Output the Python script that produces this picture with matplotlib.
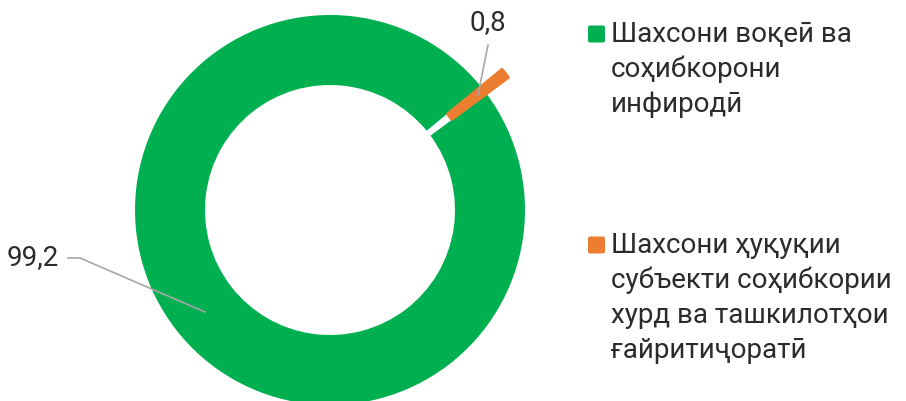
import matplotlib.pyplot as plt
from matplotlib.patches import FancyBboxPatch

plt.rcParams['font.family'] = ['Roboto', 'DejaVu Sans']

# data
categories = ["Шахсони воқеӣ ва\nсоҳибкорони\nинфиродӣ",
              "Шахсони ҳуқуқии\nсубъекти соҳибкории\nхурд ва ташкилотҳои\nғайритиҷоратӣ"]
values = [99.2, 0.8]
value_labels = ["99,2", "0,8"]
colors = ["#00b050", "#ed7d31"]

W, H = 906, 401
fig = plt.figure(figsize=(W / 100, H / 100), dpi=100)
ax = fig.add_axes([0, 0, 1, 1])

cx, cy = 330, H - 210
R = 195
wedges, _ = ax.pie(values, colors=colors, radius=R, center=(cx, cy),
                   startangle=36.5, counterclock=False, explode=[0, 27],
                   wedgeprops=dict(width=70, linewidth=0), frame=True)
ax.set_xlim(0, W)
ax.set_ylim(0, H)
ax.set_aspect("equal")
ax.axis("off")
wedges[1].set_edgecolor(colors[1])
wedges[1].set_linewidth(2.5)
wedges[1].set_joinstyle("round")

txt_color = "#2b2b2b"
fs = 20
line_c = "#a6a6a6"

# data labels with leader lines
ax.plot([68, 80, 205], [H - 258, H - 258, H - 312], color=line_c, lw=1.2)
ax.text(59, H - 258, value_labels[0], ha="right", va="center",
        fontsize=fs, color=txt_color)
ax.plot([488, 478], [H - 45, H - 95], color=line_c, lw=1.2)
ax.text(488, H - 23, value_labels[1], ha="center", va="center",
        fontsize=fs, color=txt_color)

# legend
legend_top = [42, 253]
for lab, col, base in zip(categories, colors, legend_top):
    sq = FancyBboxPatch((588, H - base - 0.5), 17, 17,
                        boxstyle="round,pad=0,rounding_size=2",
                        fc=col, ec="none")
    ax.add_patch(sq)
    for i, line in enumerate(lab.split("\n")):
        ax.text(611, H - base - 35 * i, line, ha="left", va="baseline",
                fontsize=fs, color=txt_color)

fig.savefig("out.png", dpi=100)
